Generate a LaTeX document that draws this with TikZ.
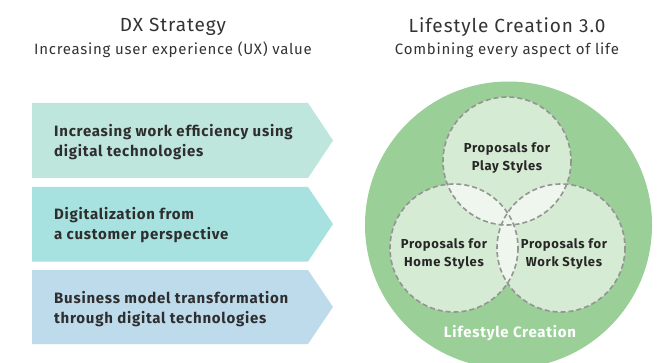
\documentclass[tikz,border=0pt]{standalone}
\usepackage{fontspec}
\setmainfont{Fira Sans}[LetterSpace=5]
\begin{document}
\begin{tikzpicture}[x=1pt,y=-1pt,
  title/.style={font=\fontsize{19}{22}\selectfont, text=black!80, inner sep=0pt, anchor=base},
  subtitle/.style={font=\fontsize{15}{18}\selectfont, text=black!80, inner sep=0pt, anchor=base},
  boxtext/.style={font=\bfseries\fontsize{15}{20}\selectfont, text=black!82, inner sep=0pt, align=left, anchor=west},
  circtext/.style={font=\bfseries\fontsize{13}{18.5}\selectfont, text=black!85, inner sep=0pt, align=center},
  dashcirc/.style={draw=black!42, line width=1.6pt, dash pattern=on 5pt off 3pt}]
\definecolor{boxA}{RGB}{191,230,220}
\definecolor{boxB}{RGB}{168,226,224}
\definecolor{boxC}{RGB}{190,219,236}
\definecolor{bigc}{RGB}{154,207,152}
\definecolor{smallc}{RGB}{214,235,211}
\definecolor{overl}{RGB}{238,246,237}
\useasboundingbox (0,0) rectangle (663,363);
\clip (0,0) rectangle (663,363);
% titles
\node[title] (t1) at (173,32) {DX Strategy};
\node[subtitle] (s1) at (173,55) {Increasing user experience (UX) value};
\node[title] (t2) at (507,33) {Lifestyle Creation 3.0};
\node[subtitle] (s2) at (507,55) {Combining every aspect of life};
% arrows
\fill[boxA] (32,103) -- (308,103) -- (333,140.5) -- (308,178) -- (32,178) -- cycle;
\fill[boxB] (32,187) -- (308,187) -- (333,224) -- (308,261.5) -- (32,261.5) -- cycle;
\fill[boxC] (32,270) -- (308,270) -- (333,307) -- (308,344) -- (32,344) -- cycle;
\node[boxtext] (b1) at (54,142) {Increasing work efficiency using\\digital technologies};
\node[boxtext] (b2) at (54,225.5) {Digitalization from\\a customer perspective};
\node[boxtext] (b3) at (54,309) {Business model transformation\\through digital technologies};
% big circle
\fill[bigc] (508.5,225) circle[radius=143.5];
\coordinate (cp) at (507,161);
\coordinate (ch) at (454,248);
\coordinate (cw) at (561,248);
\fill[smallc] (cp) circle[radius=64] (ch) circle[radius=64] (cw) circle[radius=64];
\begin{scope}
  \clip (cp) circle[radius=64];
  \fill[overl] (ch) circle[radius=64] (cw) circle[radius=64];
\end{scope}
\begin{scope}
  \clip (ch) circle[radius=64];
  \fill[overl] (cw) circle[radius=64];
\end{scope}
\draw[dashcirc] (cp) circle[radius=64];
\draw[dashcirc] (ch) circle[radius=64];
\draw[dashcirc] (cw) circle[radius=64];
\node[circtext] (np) at (507,158) {Proposals for\\Play Styles};
\node[circtext] (nh) at (444,254) {Proposals for\\Home Styles};
\node[circtext] (nw) at (564,254) {Proposals for\\Work Styles};
\node[circtext, text=white, font=\bfseries\fontsize{15}{17}\selectfont, anchor=base] (lc) at (510,337) {Lifestyle Creation};
\end{tikzpicture}
\end{document}
